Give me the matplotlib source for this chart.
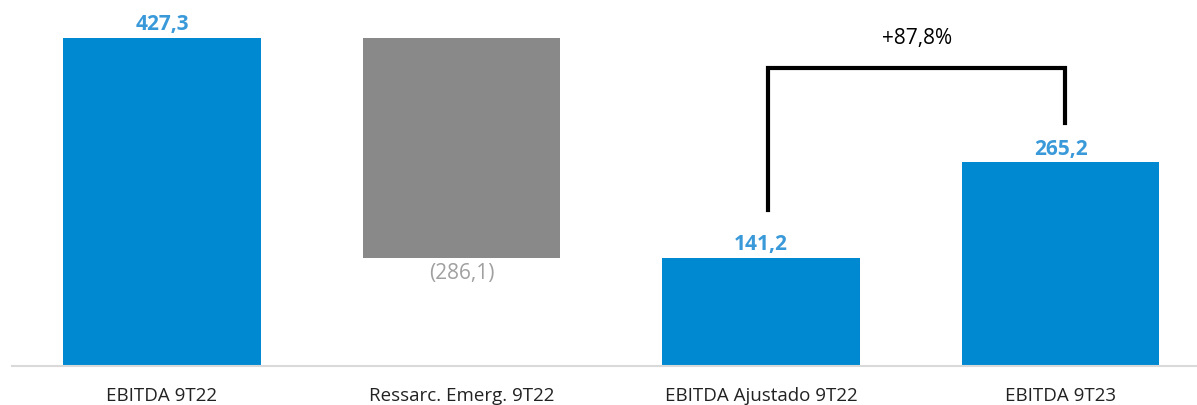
import numpy as np
import matplotlib.pyplot as plt

plt.rcParams['font.family'] = ['Open Sans', 'DejaVu Sans']

categories = ['EBITDA 9T22', 'Ressarc. Emerg. 9T22', 'EBITDA Ajustado 9T22', 'EBITDA 9T23']
values = [427.3, -286.1, 141.2, 265.2]
labels = ['427,3', '(286,1)', '141,2', '265,2']
growth_label = '+87,8%'

blue = '#0088d1'
gray = '#898989'
blue_txt = '#3a9ad9'
gray_txt = '#a0a0a0'

# waterfall: the middle bar floats between the first and third
bottoms = [0, values[0] + values[1], 0, 0]
heights = [values[0], -values[1], values[2], values[3]]
colors = [blue, gray, blue, blue]

fig = plt.figure(figsize=(11.97, 4.05), dpi=100)
ax = fig.add_axes([12 / 1197, 39 / 405, 1185 / 1197, 366 / 405])

x = np.arange(len(categories))
ax.bar(x, heights, bottom=bottoms, width=0.66, color=colors, zorder=2)

for i in range(len(categories)):
    if values[i] < 0:
        ax.annotate(labels[i], (x[i], bottoms[i]), xytext=(0, -4), textcoords='offset points',
                    ha='center', va='top', fontsize=15, color=gray_txt)
    else:
        ax.annotate(labels[i], (x[i], bottoms[i] + heights[i]), xytext=(0, 2),
                    textcoords='offset points', ha='center', va='bottom',
                    fontsize=15, fontweight='bold', color=blue_txt)

# bracket between the adjusted EBITDA and 9T23
top = 388
ax.plot([x[2] + 0.023, x[2] + 0.023, x[3] + 0.015, x[3] + 0.015],
        [values[2] + 62, top, top, values[3] + 51], color='black', lw=3,
        solid_joinstyle='miter', zorder=3)
ax.text((x[2] + x[3]) / 2 + 0.02, 427, growth_label, ha='center', va='center',
        fontsize=15, color='black')

ax.set_xlim(-0.5008, -0.5008 + 1185 / 299.5)
ax.set_ylim(0, 366 / 0.768)
ax.set_xticks(x)
ax.set_xticklabels(categories, fontsize=13.5, color='#222222')
ax.tick_params(axis='x', length=0, pad=15)
ax.set_yticks([])
for s in ['top', 'right', 'left']:
    ax.spines[s].set_visible(False)
ax.spines['bottom'].set_color('#d9d9d9')
ax.spines['bottom'].set_linewidth(1.5)

fig.savefig('out.png', dpi=100)
